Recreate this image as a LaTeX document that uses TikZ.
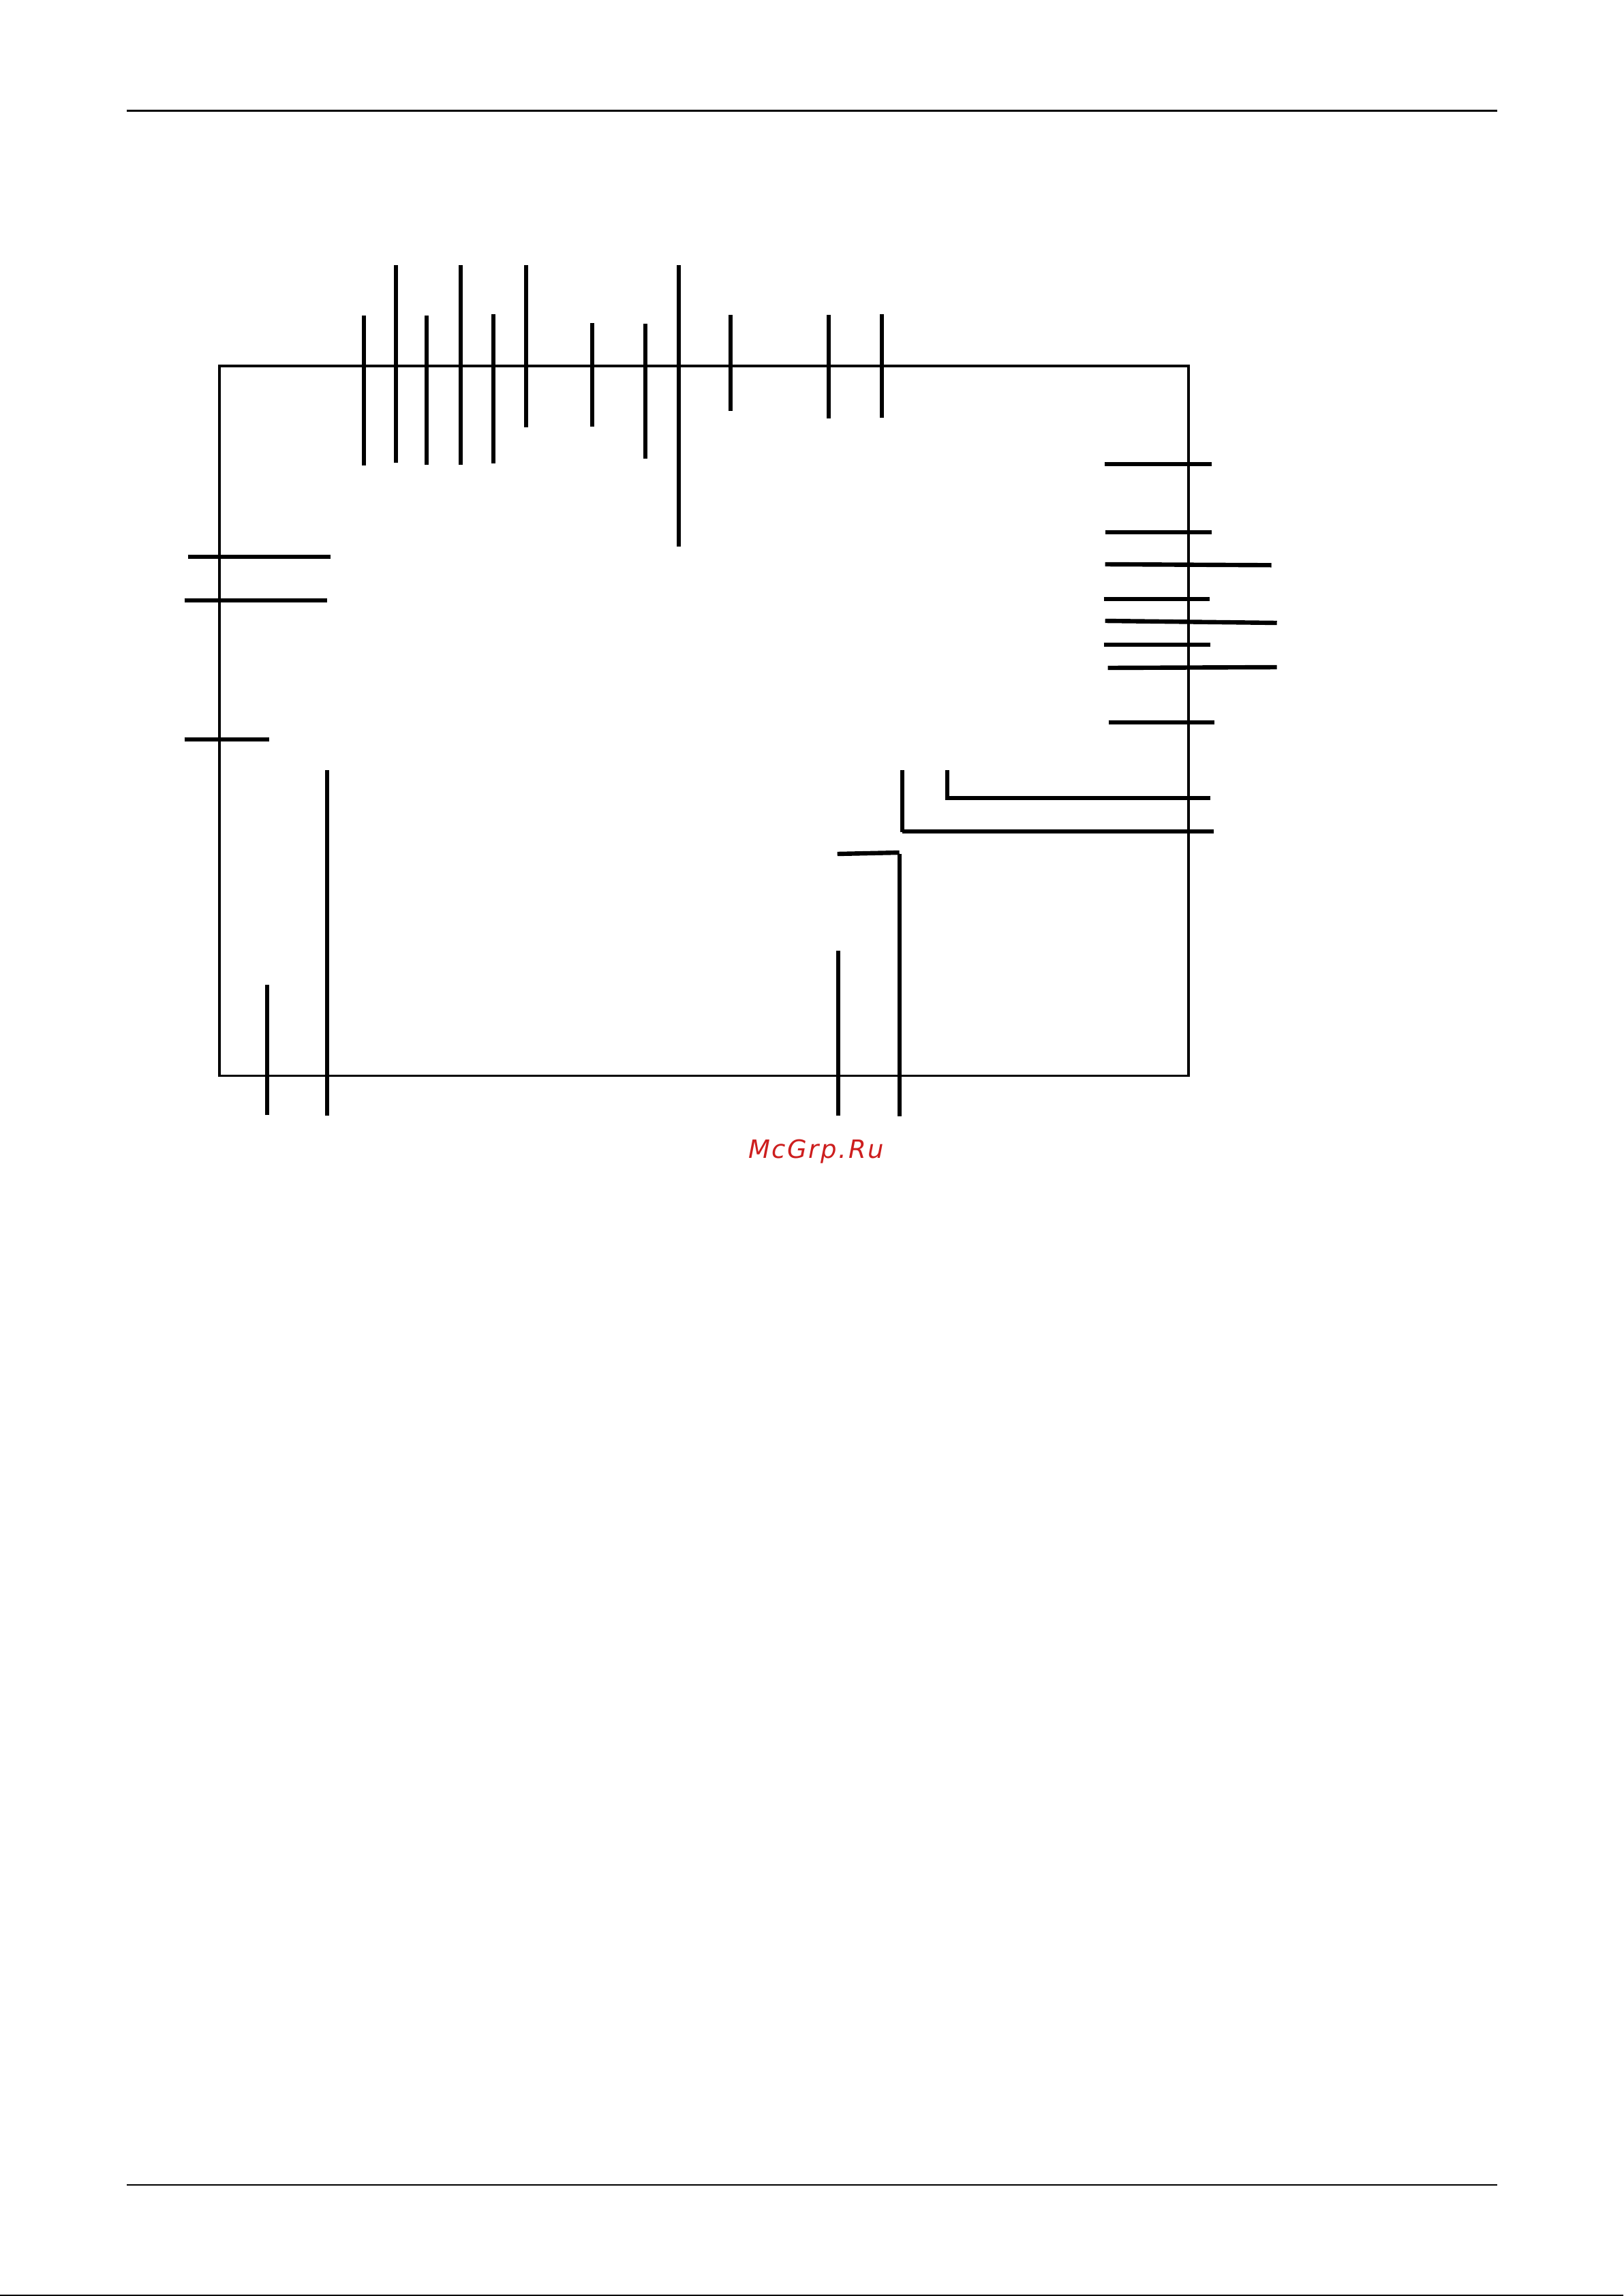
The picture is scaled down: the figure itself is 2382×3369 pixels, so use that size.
\documentclass[tikz,border=0pt]{standalone}
\usepackage{fontspec}
\newfontfamily\wmfont[LetterSpace=7]{DejaVu Sans}
\definecolor{wmred}{RGB}{205,30,30}
\tikzset{
  lead/.style={line width=6.4pt,black,line cap=butt},
  frameline/.style={line width=3.6pt,black,line join=miter},
  rule/.style={line width=2.8pt,black},
  wm/.style={text=wmred,inner sep=0pt,anchor=base west,font=\wmfont\itshape\fontsize{37pt}{37pt}\selectfont}
}
\begin{document}
\begin{tikzpicture}[x=1pt,y=-1pt]
\useasboundingbox (0,0) rectangle (2382,3369);
\fill[white] (0,0) rectangle (2382,3369);
% page rules
\draw[rule] (186,162.5) -- (2197,162.5);
\draw[rule] (186,3206) -- (2197,3206);
\draw[line width=2pt] (0,3368) -- (2382,3368);
\begin{scope}[xshift=0.7pt]
% frame
\draw[frameline] (321.3,537) rectangle (1743,1578.5);
% top leads
\draw[lead] (533,463) -- (533,683);
\draw[lead] (580,389) -- (580,679);
\draw[lead] (625,463) -- (625,682);
\draw[lead] (675,389) -- (675,682);
\draw[lead] (723,461) -- (723,680);
\draw[lead] (771,389) -- (771,627);
\draw[lead] (868,474) -- (868,626);
\draw[lead] (946,475) -- (946,673);
\draw[lead] (995,389) -- (995,802);
\draw[lead] (1071,462) -- (1071,603);
\draw[lead] (1215,462) -- (1215,614);
\draw[lead] (1293,461) -- (1293,613);
% right leads
\draw[lead] (1620,681) -- (1777,681);
\draw[lead] (1621,781) -- (1777,781);
\draw[lead] (1621,828) -- (1865,829.3);
\draw[lead] (1619,879) -- (1774,879);
\draw[lead] (1621,911) -- (1873,914);
\draw[lead] (1619,946) -- (1775,946);
\draw[lead] (1625,980) -- (1873,979);
\draw[lead] (1626,1060) -- (1781,1060);
% left leads
\draw[lead] (275,817) -- (484,817);
\draw[lead] (270,881) -- (479,881);
\draw[lead] (270,1085) -- (394,1085);
% bottom-left leads
\draw[lead] (391,1445) -- (391,1636);
\draw[lead] (479,1130) -- (479,1637);
% lower-right leads
\draw[lead] (1389,1130) -- (1389,1171) -- (1775,1171);
\draw[lead] (1323,1130) -- (1323,1221);
\draw[lead] (1323,1220) -- (1780,1220);
\draw[lead] (1228,1253) -- (1319,1251);
\draw[lead] (1319,1253) -- (1319,1638);
\draw[lead] (1229,1395) -- (1229,1637);
\end{scope}
% watermark
\node[wm] (mark) at (1098,1699) {McGrp.Ru};
\end{tikzpicture}
\end{document}
